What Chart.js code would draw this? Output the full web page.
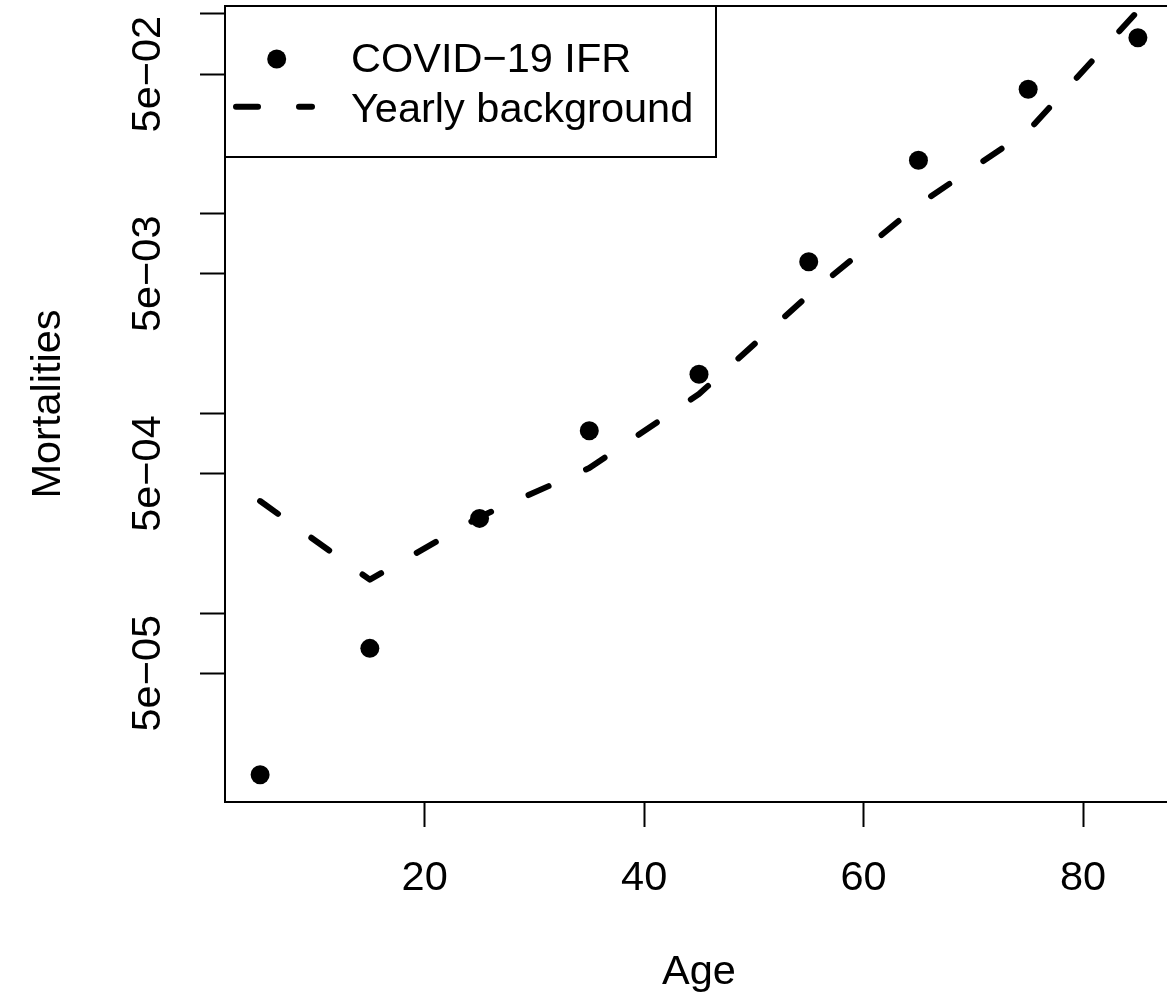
<!DOCTYPE html>
<html>
<head>
<meta charset="utf-8">
<script src="https://cdn.jsdelivr.net/npm/chart.js@4.4.1/dist/chart.umd.min.js"></script>
<style>
  html, body { margin: 0; padding: 0; background: #fff; overflow: hidden; }
  #wrap { width: 1173px; height: 1004px; }
  canvas { display: block; }
</style>
</head>
<body>
<div id="wrap"><canvas id="chart" width="1173" height="1004"></canvas></div>
<script>
// values (log scale)
const ages = [5, 15, 25, 35, 45, 55, 65, 75, 85];
const covidIfr = [1.55e-5, 6.66e-5, 2.98e-4, 8.19e-4, 1.57e-3, 5.75e-3, 1.85e-2, 4.2e-2, 7.61e-2];
const yearlyBackground = [3.64e-4, 1.47e-4, 3.03e-4, 5.33e-4, 1.25e-3, 3.92e-3, 1.11e-2, 2.6e-2, 1.035e-1];
const seriesLabels = ['COVID−19 IFR', 'Yearly background'];

const xTicks = [20, 40, 60, 80];
const yTicks = [5e-5, 1e-4, 5e-4, 1e-3, 5e-3, 1e-2, 5e-2, 1e-1];
const yTickLabels = ['5e−05', '', '5e−04', '', '5e−03', '', '5e−02', ''];

const FONT = '"Liberation Sans", Arial, Helvetica, sans-serif';
const FONT_SIZE = 41.5;
Chart.defaults.font.family = FONT;
Chart.defaults.font.size = FONT_SIZE;
Chart.defaults.color = '#000';

// box round the plot region, like R's bty="o"
const plotBox = {
    id: 'plotBox',
    afterDraw(chart) {
        const { ctx, chartArea: a } = chart;
        ctx.save();
        ctx.strokeStyle = '#000';
        ctx.lineWidth = 2;
        ctx.strokeRect(a.left, a.top, a.right - a.left, a.bottom - a.top);
        ctx.restore();
    }
};

// R style legend in the top left corner
const boxLegend = {
    id: 'boxLegend',
    afterDraw(chart) {
        const { ctx, chartArea: a } = chart;
        const pts = chart.data.datasets[0];
        const line = chart.data.datasets[1];
        const x0 = a.left, y0 = a.top;
        ctx.save();
        ctx.strokeStyle = '#000';
        ctx.lineWidth = 2;
        ctx.strokeRect(x0, y0, 491, 151);

        ctx.fillStyle = pts.backgroundColor;
        ctx.beginPath();
        ctx.arc(x0 + 51.7, y0 + 53, pts.pointRadius, 0, Math.PI * 2);
        ctx.fill();

        ctx.strokeStyle = line.borderColor;
        ctx.lineWidth = line.borderWidth;
        ctx.lineCap = 'round';
        ctx.setLineDash(line.borderDash);
        ctx.beginPath();
        ctx.moveTo(x0 + 11, y0 + 100.7);
        ctx.lineTo(x0 + 87, y0 + 100.7);
        ctx.stroke();
        ctx.setLineDash([]);

        ctx.fillStyle = '#000';
        ctx.font = FONT_SIZE + 'px ' + FONT;
        ctx.textBaseline = 'alphabetic';
        ctx.fillText(pts.label, x0 + 126, 72);
        ctx.fillText(line.label, x0 + 126, 121.5);
        ctx.restore();
    }
};

const ctx = document.getElementById('chart').getContext('2d');
new Chart(ctx, {
    type: 'line',
    data: {
        datasets: [{
            label: seriesLabels[0],
            data: ages.map((a, i) => ({ x: a, y: covidIfr[i] })),
            showLine: false,
            pointRadius: 9.5,
            pointStyle: 'circle',
            backgroundColor: '#000',
            borderColor: '#000',
            borderWidth: 0
        }, {
            label: seriesLabels[1],
            data: ages.map((a, i) => ({ x: a, y: yearlyBackground[i] })),
            borderColor: '#000',
            borderWidth: 6,
            borderDash: [22, 41],
            borderCapStyle: 'round',
            borderJoinStyle: 'round',
            pointRadius: 0,
            tension: 0,
            fill: false
        }]
    },
    options: {
        responsive: false,
        animation: false,
        events: [],
        layout: { autoPadding: false, padding: { top: 6, right: 0, bottom: 0, left: 0 } },
        plugins: {
            legend: { display: false },
            tooltip: { enabled: false }
        },
        scales: {
            x: {
                type: 'linear',
                bounds: 'data',
                min: 1.8,
                max: 88.2,
                afterBuildTicks: (scale) => { scale.ticks = xTicks.map(v => ({ value: v })); },
                afterFit: (scale) => {
                    scale.height = 202;
                    scale.paddingLeft = scale.paddingRight = scale.paddingTop = scale.paddingBottom = 0;
                },
                grid: { drawOnChartArea: false, drawTicks: true, tickLength: 25, tickWidth: 2, tickColor: '#000' },
                border: { display: true, color: '#000', width: 2 },
                ticks: { padding: 27, maxRotation: 0, autoSkip: false },
                title: { display: true, text: 'Age', padding: { top: 0, bottom: 6.8 } }
            },
            y: {
                type: 'logarithmic',
                bounds: 'data',
                min: 1.1326e-5,
                max: 0.10965,
                afterBuildTicks: (scale) => { scale.ticks = yTicks.map(v => ({ value: v })); },
                afterFit: (scale) => {
                    scale.width = 225;
                    scale.paddingLeft = scale.paddingRight = scale.paddingTop = scale.paddingBottom = 0;
                },
                grid: { drawOnChartArea: false, drawTicks: true, tickLength: 25, tickWidth: 2, tickColor: '#000' },
                border: { display: true, color: '#000', width: 2 },
                ticks: {
                    minRotation: 90,
                    maxRotation: 90,
                    crossAlign: 'center',
                    padding: -6.9,
                    autoSkip: false,
                    callback: (value, index) => yTickLabels[index]
                },
                title: { display: true, text: 'Mortalities', padding: { top: 23.7, bottom: 0 } }
            }
        }
    },
    plugins: [plotBox, boxLegend]
});
</script>
</body>
</html>
